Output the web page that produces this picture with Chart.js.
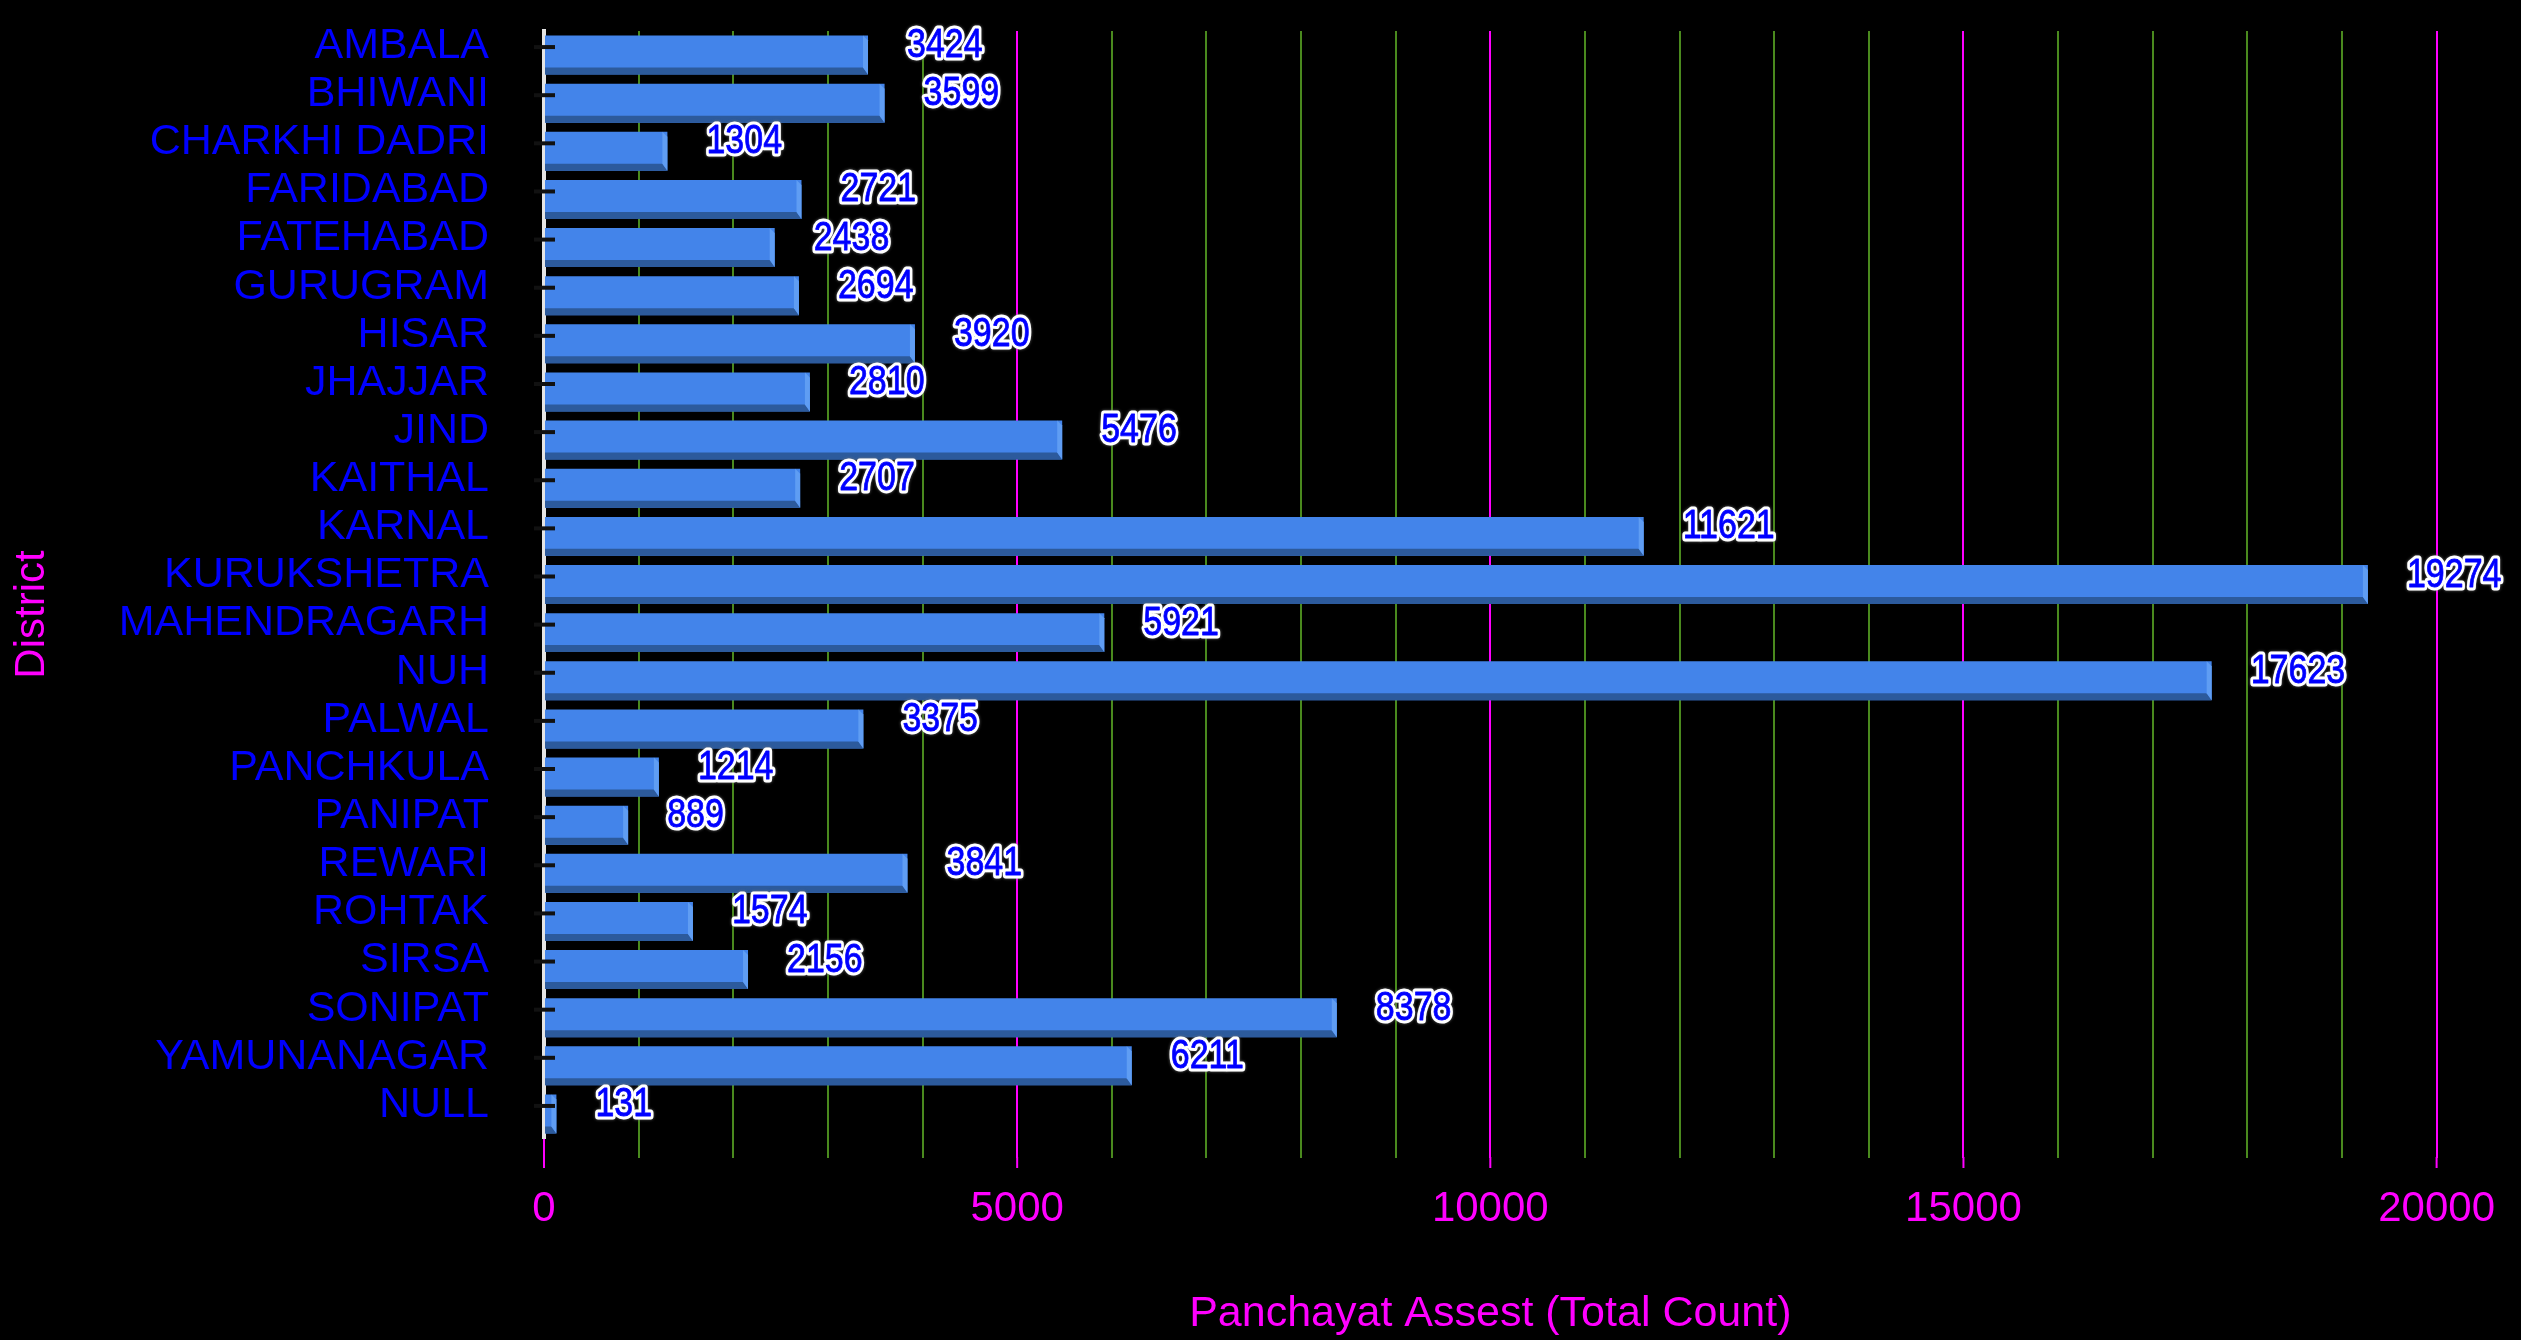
<!DOCTYPE html>
<html>
<head>
<meta charset="utf-8">
<script src="https://cdn.jsdelivr.net/npm/chart.js@4.4.1/dist/chart.umd.min.js"></script>
<style>
  html, body { margin: 0; padding: 0; background: #000; }
  #wrap { width: 2521px; height: 1340px; position: relative; }
</style>
</head>
<body>
<div id="wrap"><canvas id="assetChart"></canvas></div>
<script>
const districts = ['AMBALA','BHIWANI','CHARKHI DADRI','FARIDABAD','FATEHABAD','GURUGRAM','HISAR','JHAJJAR','JIND','KAITHAL','KARNAL','KURUKSHETRA','MAHENDRAGARH','NUH','PALWAL','PANCHKULA','PANIPAT','REWARI','ROHTAK','SIRSA','SONIPAT','YAMUNANAGAR','NULL'];
const assetCounts = [3424,3599,1304,2721,2438,2694,3920,2810,5476,2707,11621,19274,5921,17623,3375,1214,889,3841,1574,2156,8378,6211,131];
const majorTicks = [0, 5000, 10000, 15000, 20000];
const xTitle = 'Panchayat Assest (Total Count)';
const yTitle = 'District';

const FACE = '#4384ea', BOTTOM = '#2c5a9c', SIDE = '#5f9df3';
const GREEN = '#4a8a1e', MAGENTA = '#ff00ff', BLUE = '#0000ff';
const FONT = '"Liberation Sans", Arial, sans-serif';

// 3d-ish bar edges, value labels, small extras
const bars3d = {
  id: 'bars3d',
  afterDatasetsDraw(chart) {
    const ctx = chart.ctx;
    const meta = chart.getDatasetMeta(0);
    const yScale = chart.scales.y;
    const area = chart.chartArea;
    ctx.save();
    meta.data.forEach(bar => {
      const p = bar.getProps(['x', 'y', 'base', 'height'], true);
      const top = p.y - p.height / 2, bot = p.y + p.height / 2;
      const d = 7, b = 5;
      ctx.fillStyle = BOTTOM;
      ctx.beginPath();
      ctx.moveTo(p.base, bot - d); ctx.lineTo(p.x - b, bot - d); ctx.lineTo(p.x, bot); ctx.lineTo(p.base, bot);
      ctx.closePath(); ctx.fill();
      ctx.fillStyle = SIDE;
      ctx.beginPath();
      ctx.moveTo(p.x - b, top); ctx.lineTo(p.x, top + b); ctx.lineTo(p.x, bot); ctx.lineTo(p.x - b, bot - d);
      ctx.closePath(); ctx.fill();
    });
    // category tick marks
    ctx.strokeStyle = '#111';
    ctx.lineWidth = 4;
    districts.forEach((_, i) => {
      const ty = yScale.getPixelForTick(i) - 8;
      ctx.beginPath(); ctx.moveTo(area.left - 10, ty); ctx.lineTo(area.left + 11, ty); ctx.stroke();
    });
    // value labels
    ctx.font = '40px ' + FONT;
    ctx.textBaseline = 'middle';
    ctx.textAlign = 'left';
    ctx.lineJoin = 'round';
    meta.data.forEach((bar, i) => {
      const txt = String(assetCounts[i]);
      ctx.save();
      ctx.translate(bar.x + 39, bar.y - 9);
      ctx.scale(0.85, 1);
      ctx.shadowColor = 'rgba(120,120,120,0.9)';
      ctx.shadowBlur = 3;
      ctx.strokeStyle = '#fff';
      ctx.lineWidth = 7;
      ctx.strokeText(txt, 0, 0);
      ctx.shadowColor = 'transparent';
      ctx.shadowBlur = 0;
      ctx.fillStyle = BLUE;
      ctx.strokeStyle = BLUE;
      ctx.lineWidth = 0.8;
      ctx.fillText(txt, 0, 0);
      ctx.strokeText(txt, 0, 0);
      ctx.restore();
    });
    ctx.restore();
  },
  afterDraw(chart) {
    const ctx = chart.ctx;
    const area = chart.chartArea;
    const xScale = chart.scales.x;
    ctx.save();
    // longer ticks for the major (magenta) lines
    ctx.strokeStyle = MAGENTA;
    ctx.lineWidth = 2;
    majorTicks.forEach(v => {
      const px = xScale.getPixelForValue(v);
      ctx.beginPath(); ctx.moveTo(px, area.bottom + 19); ctx.lineTo(px, area.bottom + 30); ctx.stroke();
    });
    // y title
    ctx.translate(32, (area.top + area.bottom) / 2 + 30);
    ctx.rotate(-Math.PI / 2);
    ctx.font = '42px ' + FONT;
    ctx.fillStyle = MAGENTA;
    ctx.textAlign = 'center';
    ctx.textBaseline = 'middle';
    ctx.fillText(yTitle, 0, 0);
    ctx.restore();
  }
};

const ctx = document.getElementById('assetChart').getContext('2d');
const chart = new Chart(ctx, {
  type: 'bar',
  data: {
    labels: districts,
    datasets: [{ data: assetCounts, backgroundColor: FACE, borderWidth: 0, barPercentage: 1, categoryPercentage: 0.81 }]
  },
  plugins: [bars3d],
  options: {
    indexAxis: 'y',
    responsive: true,
    maintainAspectRatio: false,
    animation: false,
    layout: { padding: { top: 31, right: 73, left: 0, bottom: 0 } },
    plugins: { legend: { display: false }, tooltip: { enabled: false } },
    scales: {
      x: {
        min: 0, max: 20000,
        afterFit: s => { s.height = 202; },
        border: { display: false },
        grid: {
          lineWidth: 2,
          tickLength: 20,
          color: c => c.tick.value === 0 ? 'transparent' : (c.tick.value % 5000 === 0 ? MAGENTA : GREEN),
          tickColor: c => c.tick.value % 5000 === 0 ? MAGENTA : GREEN
        },
        ticks: {
          stepSize: 1000, autoSkip: false, maxRotation: 0,
          color: MAGENTA, padding: 26,
          font: { family: FONT, size: 42 },
          callback: v => majorTicks.includes(v) ? String(v) : ''
        },
        title: {
          display: true, text: xTitle, color: MAGENTA,
          font: { family: FONT, size: 43 }, padding: { top: 0, bottom: 0 }
        }
      },
      y: {
        afterFit: s => { s.width = 544; },
        grid: { display: true, drawOnChartArea: false, drawTicks: true, tickLength: 55, tickColor: 'transparent' },
        border: { display: true, color: '#e4e4e4', width: 4 },
        ticks: {
          autoSkip: false, color: BLUE, padding: 0, labelOffset: -9,
          font: { family: FONT, size: 43 }
        }
      }
    }
  }
});
</script>
</body>
</html>
